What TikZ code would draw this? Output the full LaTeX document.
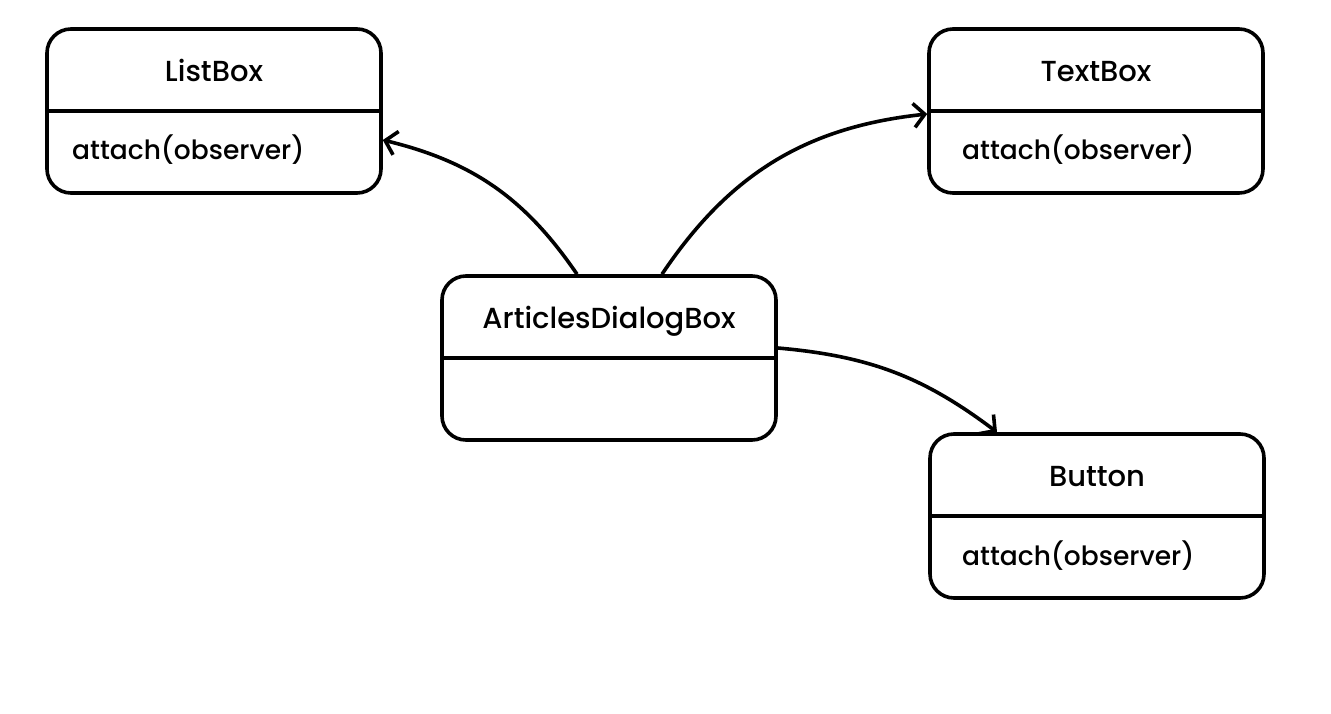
\documentclass[tikz,border=0pt]{standalone}
\usepackage{fontspec}
\setmainfont{Poppins}[UprightFont={* Medium}]
\usetikzlibrary{arrows.meta}
\usetikzlibrary{positioning}

\tikzset{
  cls/.style={draw, line width=3.6pt, rounded corners=24pt, minimum width=334pt, minimum height=164pt, inner sep=0pt},
  clsname/.style={font=\fontsize{29}{34}\selectfont, anchor=base, inner sep=0pt},
  member/.style={font=\fontsize{26.5}{32}\selectfont, anchor=base west, inner sep=0pt},
  link/.style={line width=3.6pt, -{Straight Barb[length=11pt,width=24pt]}},
}

\begin{document}
\begin{tikzpicture}[x=1pt,y=-1pt]
    \useasboundingbox (0,0) rectangle (1331,714);
    % classes
    \node[cls] (listbox) at (214,111) {};
    \node[cls] (textbox) at (1096,111) {};
    \node[cls] (dialog) at (609,358) {};
    \node[cls] (button) at (1097,516) {};
    \foreach\c/\t in {listbox/ListBox,textbox/TextBox,dialog/ArticlesDialogBox,button/Button} {
      \draw[line width=3.6pt] (\c.west) -- (\c.east);
      \node[clsname] (\c-name) at ([yshift=-54pt]\c.north) {\t};
    }
    \node[member] (listbox-op) at (72,160) {attach(observer)};
    \node[member] (textbox-op) at (962,160) {attach(observer)};
    \node[member] (button-op) at (962,565) {attach(observer)};
    % observers
    \draw[link] ([xshift=-32pt]dialog.north) to[bend right=21] ([yshift=-29pt]listbox.east);
    \draw[link] ([xshift=53pt]dialog.north) to[bend left=25] ([yshift=-3pt]textbox.west);
    \draw[link] ([yshift=10pt]dialog.east) to[bend left=16] ([xshift=-100pt]button.north);
  \end{tikzpicture}
\end{document}
